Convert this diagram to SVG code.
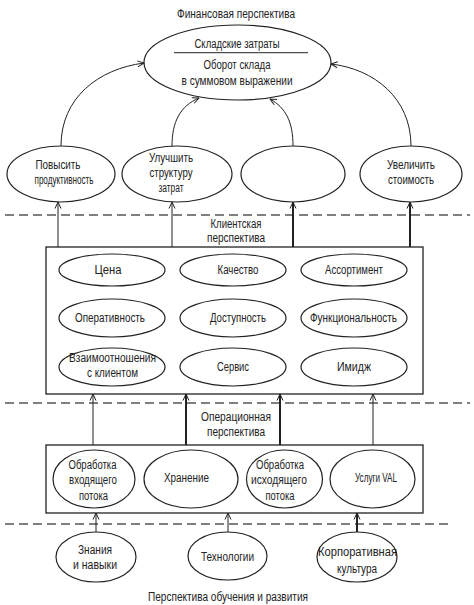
<svg xmlns="http://www.w3.org/2000/svg" width="474" height="605" viewBox="0 0 474 605">
<style>
text{font-family:"Liberation Sans","DejaVu Sans",sans-serif;font-size:12px;fill:#222;text-anchor:middle;}
.n{fill:#fff;stroke:#222;stroke-width:1.2;}
.box{fill:#fff;stroke:#222;stroke-width:1.3;}
.c{fill:none;stroke:#222;stroke-width:1;}
.t{fill:none;stroke:#222;stroke-width:2;}
.d{fill:none;stroke:#555;stroke-width:1.6;stroke-dasharray:9 5;}
</style>
<defs>
<marker id="a" viewBox="0 0 8 8" refX="7.5" refY="4" markerWidth="8" markerHeight="8" markerUnits="userSpaceOnUse" orient="auto">
<path d="M1,1 L7.5,4 L1,7" fill="none" stroke="#222" stroke-width="1"/>
</marker>
</defs>
<rect width="474" height="605" fill="#fff"/>

<g id="separators">
<line class="d" x1="5" y1="215" x2="470" y2="215"/>
<line class="d" x1="5" y1="403" x2="470" y2="403"/>
<line class="d" x1="5" y1="524" x2="450" y2="524"/>
</g>

<g id="labels">
<text x="236" y="18" textLength="118" lengthAdjust="spacingAndGlyphs">Финансовая перспектива</text>
<text x="236" y="228" textLength="51" lengthAdjust="spacingAndGlyphs">Клиентская</text>
<text x="236" y="242" textLength="58" lengthAdjust="spacingAndGlyphs">перспектива</text>
<text x="236" y="421" textLength="70" lengthAdjust="spacingAndGlyphs">Операционная</text>
<text x="236" y="436" textLength="58" lengthAdjust="spacingAndGlyphs">перспектива</text>
<text x="228" y="601" textLength="160" lengthAdjust="spacingAndGlyphs">Перспектива обучения и развития</text>
</g>

<g id="finance">
<ellipse class="n" cx="237.5" cy="62.5" rx="93.5" ry="37.5"/>
<text x="237" y="48" textLength="85" lengthAdjust="spacingAndGlyphs">Складские затраты</text>
<line x1="174" y1="52.7" x2="308" y2="52.7" stroke="#222" stroke-width="1"/>
<text x="237" y="69" textLength="67" lengthAdjust="spacingAndGlyphs">Оборот склада</text>
<text x="237" y="85" textLength="111" lengthAdjust="spacingAndGlyphs">в суммовом выражении</text>
</g>

<g id="f1"><ellipse class="n" cx="61" cy="174" rx="54" ry="28"/>
<text x="58" y="169" textLength="45" lengthAdjust="spacingAndGlyphs">Повысить</text>
<text x="64" y="184" textLength="59" lengthAdjust="spacingAndGlyphs">продуктивность</text></g>
<g id="f2"><ellipse class="n" cx="177" cy="174" rx="55" ry="28"/>
<text x="171" y="162" textLength="44" lengthAdjust="spacingAndGlyphs">Улучшить</text>
<text x="171" y="177" textLength="43" lengthAdjust="spacingAndGlyphs">структуру</text>
<text x="171" y="192" textLength="25" lengthAdjust="spacingAndGlyphs">затрат</text></g>
<g id="f3"><ellipse class="n" cx="293" cy="174" rx="52" ry="28"/></g>
<g id="f4"><ellipse class="n" cx="411" cy="174" rx="51" ry="28"/>
<text x="411" y="169" textLength="48" lengthAdjust="spacingAndGlyphs">Увеличить</text>
<text x="411" y="184" textLength="46" lengthAdjust="spacingAndGlyphs">стоимость</text></g>

<g id="client">
<rect class="box" x="46" y="247" width="377" height="147"/>
<g id="c1"><ellipse class="n" cx="112" cy="270" rx="53" ry="16"/><text x="108" y="274" textLength="27" lengthAdjust="spacingAndGlyphs">Цена</text></g>
<g id="c2"><ellipse class="n" cx="233" cy="270" rx="53" ry="16"/><text x="238" y="274" textLength="41" lengthAdjust="spacingAndGlyphs">Качество</text></g>
<g id="c3"><ellipse class="n" cx="354" cy="270" rx="53" ry="16"/><text x="354" y="274" textLength="58" lengthAdjust="spacingAndGlyphs">Ассортимент</text></g>
<g id="c4"><ellipse class="n" cx="112" cy="318" rx="53" ry="19"/><text x="110" y="322" textLength="70" lengthAdjust="spacingAndGlyphs">Оперативность</text></g>
<g id="c5"><ellipse class="n" cx="233" cy="318" rx="53" ry="19"/><text x="238" y="322" textLength="56" lengthAdjust="spacingAndGlyphs">Доступность</text></g>
<g id="c6"><ellipse class="n" cx="354" cy="318" rx="53" ry="19"/><text x="353.5" y="322" textLength="87" lengthAdjust="spacingAndGlyphs">Функциональность</text></g>
<g id="c7"><ellipse class="n" cx="112" cy="367" rx="53" ry="19"/><text x="112.5" y="362" textLength="87" lengthAdjust="spacingAndGlyphs">Взаимоотношения</text><text x="112.5" y="377" textLength="51" lengthAdjust="spacingAndGlyphs">с клиентом</text></g>
<g id="c8"><ellipse class="n" cx="233" cy="367" rx="53" ry="19"/><text x="233" y="371" textLength="32" lengthAdjust="spacingAndGlyphs">Сервис</text></g>
<g id="c9"><ellipse class="n" cx="354" cy="367" rx="53" ry="19"/><text x="354" y="371" textLength="34" lengthAdjust="spacingAndGlyphs">Имидж</text></g>
</g>

<g id="operations">
<rect class="box" x="46" y="445" width="377" height="68"/>
<g id="o1"><ellipse class="n" cx="94" cy="479" rx="41" ry="29"/>
<text x="92.5" y="469" textLength="48" lengthAdjust="spacingAndGlyphs">Обработка</text>
<text x="93" y="484" textLength="48" lengthAdjust="spacingAndGlyphs">входящего</text>
<text x="93.5" y="500" textLength="29" lengthAdjust="spacingAndGlyphs">потока</text></g>
<g id="o2"><ellipse class="n" cx="191" cy="479" rx="47" ry="29"/>
<text x="186.5" y="482" textLength="45" lengthAdjust="spacingAndGlyphs">Хранение</text></g>
<g id="o3"><ellipse class="n" cx="284.5" cy="479" rx="38" ry="29"/>
<text x="280" y="469" textLength="48" lengthAdjust="spacingAndGlyphs">Обработка</text>
<text x="279" y="484" textLength="56" lengthAdjust="spacingAndGlyphs">исходящего</text>
<text x="280" y="500" textLength="29" lengthAdjust="spacingAndGlyphs">потока</text></g>
<g id="o4"><ellipse class="n" cx="372.5" cy="479" rx="42.5" ry="29"/>
<text x="376" y="482" textLength="42" lengthAdjust="spacingAndGlyphs">Услуги VAL</text></g>
</g>

<g id="l1"><ellipse class="n" cx="96" cy="557" rx="40" ry="25"/>
<text x="95" y="554" textLength="34" lengthAdjust="spacingAndGlyphs">Знания</text>
<text x="95" y="569" textLength="44" lengthAdjust="spacingAndGlyphs">и навыки</text></g>
<g id="l2"><ellipse class="n" cx="227.5" cy="556" rx="39.5" ry="24"/>
<text x="227.5" y="561" textLength="53" lengthAdjust="spacingAndGlyphs">Технологии</text></g>
<g id="l3"><ellipse class="n" cx="357" cy="557" rx="40" ry="25"/>
<text x="357.5" y="556" textLength="79" lengthAdjust="spacingAndGlyphs">Корпоративная</text>
<text x="357" y="573" textLength="40" lengthAdjust="spacingAndGlyphs">культура</text></g>

<g id="connectors">
<path class="c" d="M61,146 C61,98 98,69 144,63" marker-end="url(#a)"/>
<path class="c" d="M411,146 C411,98 374,69 331,64" marker-end="url(#a)"/>
<path class="c" d="M172,146 C172,122 180,106 199,98" marker-end="url(#a)"/>
<path class="c" d="M293,146 C293,122 286,108 270,99" marker-end="url(#a)"/>
<line class="c" x1="58" y1="247" x2="58" y2="202" marker-end="url(#a)"/>
<line class="c" x1="172" y1="247" x2="172" y2="202" marker-end="url(#a)"/>
<line class="t" x1="293" y1="247" x2="293" y2="202" marker-end="url(#a)"/>
<line class="t" x1="410" y1="247" x2="410" y2="202" marker-end="url(#a)"/>
<line class="c" x1="93" y1="445" x2="93" y2="394" marker-end="url(#a)"/>
<line class="t" x1="186" y1="445" x2="186" y2="394" marker-end="url(#a)"/>
<line class="t" x1="280" y1="445" x2="280" y2="394" marker-end="url(#a)"/>
<line class="c" x1="373" y1="445" x2="373" y2="394" marker-end="url(#a)"/>
<line class="c" x1="96" y1="532" x2="96" y2="513" marker-end="url(#a)"/>
<line class="c" x1="228" y1="532" x2="228" y2="513" marker-end="url(#a)"/>
<line class="t" x1="357" y1="532" x2="357" y2="513" marker-end="url(#a)"/>
</g>
</svg>
